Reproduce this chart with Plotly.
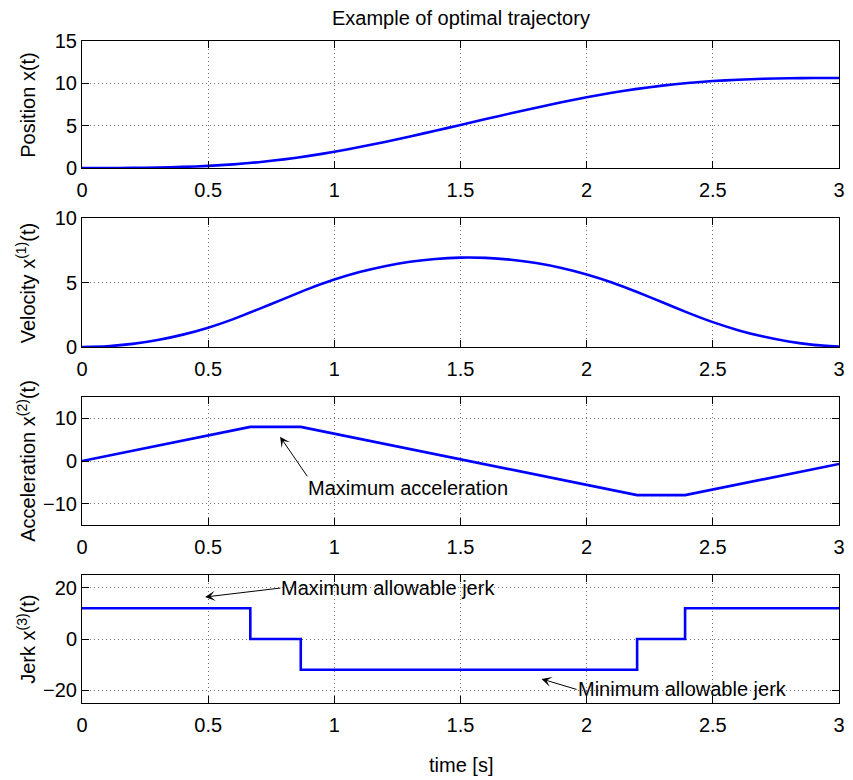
import plotly.graph_objects as go

# ---- data ----
t_smooth = [0.0, 0.1, 0.2, 0.3, 0.4, 0.5, 0.6, 0.7, 0.8, 0.9, 1.0, 1.1, 1.2, 1.3, 1.4, 1.5,
            1.6, 1.7, 1.8, 1.9, 2.0, 2.1, 2.2, 2.3, 2.4, 2.5, 2.6, 2.7, 2.8, 2.9, 3.0]
position = [0.0, 0.002, 0.016, 0.054, 0.128, 0.25, 0.432, 0.686, 1.019, 1.432, 1.921, 2.474,
            3.079, 3.723, 4.396, 5.085, 5.777, 6.462, 7.127, 7.759, 8.348, 8.881, 9.345,
            9.732, 10.039, 10.268, 10.428, 10.533, 10.594, 10.622, 10.631]
velocity = [0.0, 0.06, 0.24, 0.54, 0.96, 1.5, 2.16, 2.933, 3.733, 4.527, 5.227, 5.807, 6.267,
            6.607, 6.827, 6.927, 6.907, 6.767, 6.507, 6.127, 5.627, 5.007, 4.267, 3.467,
            2.667, 1.927, 1.307, 0.807, 0.427, 0.167, 0.027]
t_break = [0.0, 0.667, 0.867, 2.2, 2.39, 3.0]
acceleration = [0.0, 8.0, 8.0, -8.0, -8.0, -0.7]
jerk = [12.0, 0.0, -12.0, 0.0, 12.0, 12.0]

x_ticks = [0, 0.5, 1, 1.5, 2, 2.5, 3]
x_tick_labels = ["0", "0.5", "1", "1.5", "2", "2.5", "3"]
y_ticks = [[0, 5, 10, 15], [0, 5, 10], [-10, 0, 10], [-20, 0, 20]]
y_ranges = [[0, 15], [0, 10], [-15, 15], [-25, 25]]
y_titles = ["Position x(t)", "Velocity x<sup>(1)</sup>(t)",
            "Acceleration x<sup>(2)</sup>(t)", "Jerk x<sup>(3)</sup>(t)"]

FONT = "Liberation Sans, Arial, Helvetica, sans-serif"
BLUE = "#0000FF"

# ---- layout geometry ----
W, H = 853, 780
ML, MR, MT, MB = 82, 8, 41, 77
PH = H - MT - MB
panels_px = [(41, 168), (218, 347), (397, 525), (575, 703)]
domains = [[1 - (b - MT) / PH, 1 - (t - MT) / PH] for (t, b) in panels_px]

fig = go.Figure()
series = [(t_smooth, position, "spline"), (t_smooth, velocity, "spline"),
          (t_break, acceleration, "linear"), (t_break, jerk, "hv")]
for i, (xs, ys, shape) in enumerate(series):
    sfx = "" if i == 0 else str(i + 1)
    fig.add_trace(go.Scatter(x=xs, y=ys, mode="lines", xaxis="x" + sfx, yaxis="y" + sfx,
                             line=dict(color=BLUE, width=2.6, shape=shape,
                                       smoothing=0.6 if shape == "spline" else None),
                             showlegend=False, hoverinfo="skip"))

axis_common = dict(showline=True, linecolor="black", linewidth=1, mirror="ticks",
                   ticks="inside", ticklen=7, tickcolor="black", tickwidth=1,
                   showgrid=True, gridcolor="rgba(0,0,0,0.55)", gridwidth=1,
                   griddash="1px,3px", zeroline=False,
                   tickfont=dict(family=FONT, size=20, color="black"))

layout = dict(width=W, height=H, margin=dict(l=ML, r=MR, t=MT, b=MB),
              paper_bgcolor="white", plot_bgcolor="white",
              font=dict(family=FONT, size=20, color="black"), showlegend=False)

for i in range(4):
    sfx = "" if i == 0 else str(i + 1)
    layout["xaxis" + sfx] = dict(axis_common, domain=[0, 1], anchor="y" + sfx,
                                 range=[0, 3], tickvals=x_ticks, ticktext=x_tick_labels,
                                 ticklabelstandoff=4)
    layout["yaxis" + sfx] = dict(axis_common, domain=domains[i], anchor="x" + sfx,
                                 range=y_ranges[i], tickvals=y_ticks[i])

fig.update_layout(**layout)

annotations = []
PW = W - ML - MR
# y-axis titles
for i, txt in enumerate(y_titles):
    t, b = panels_px[i]
    annotations.append(dict(text=txt, xref="paper", yref="paper",
                            x=(40 - ML) / PW, y=1 - ((t + b) / 2 - MT) / PH,
                            xanchor="right", yanchor="middle", textangle=-90,
                            showarrow=False, font=dict(family=FONT, size=20)))
# title and x label
annotations.append(dict(text="Example of optimal trajectory", xref="paper", yref="paper",
                        x=0.5, y=1 + (MT - 18) / PH, xanchor="center", yanchor="middle",
                        showarrow=False, font=dict(family=FONT, size=20)))
annotations.append(dict(text="time [s]", xref="paper", yref="paper",
                        x=0.5, y=-(765 - 703) / PH, xanchor="center", yanchor="middle",
                        showarrow=False, font=dict(family=FONT, size=20)))

# labelled arrows: (axis suffix, text, tail x, tail y, tip x, tip y, yanchor)
notes = [("3", "Maximum acceleration", 0.893, -3.6, 0.785, 5.7, "top"),
         ("4", "Maximum allowable jerk", 0.786, 19.9, 0.488, 16.4, "middle"),
         ("4", "Minimum allowable jerk", 1.96, -19.7, 1.821, -15.6, "middle")]
for sfx, txt, ax_, ay_, px, py, ya in notes:
    annotations.append(dict(text=txt, xref="x" + sfx, yref="y" + sfx, x=px, y=py,
                            axref="x" + sfx, ayref="y" + sfx, ax=ax_, ay=ay_,
                            xanchor="left", yanchor=ya, showarrow=True,
                            arrowhead=3, arrowsize=1.7, arrowwidth=1,
                            arrowcolor="black", standoff=0, startstandoff=0,
                            borderpad=0, font=dict(family=FONT, size=20)))

fig.update_layout(annotations=annotations)
fig.write_html("out.html")
